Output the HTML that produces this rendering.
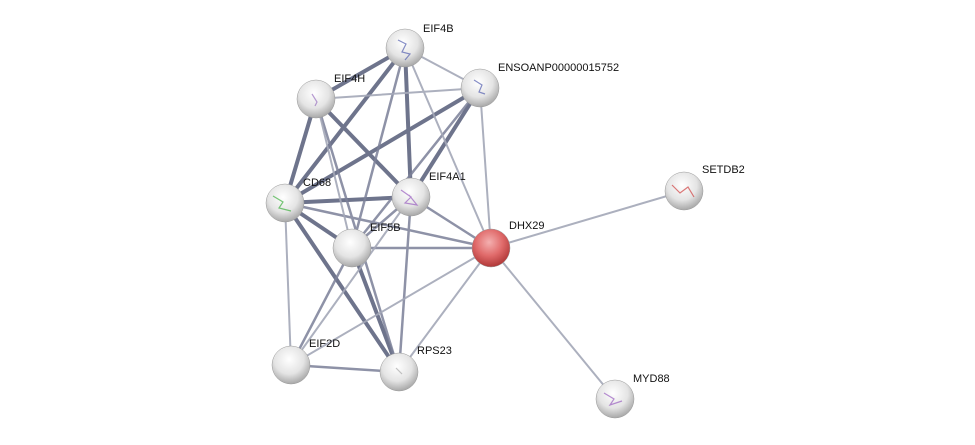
<!DOCTYPE html>
<html><head><meta charset="utf-8"><style>html,body{margin:0;padding:0;background:#fff;}svg{display:block}</style></head>
<body>
<svg width="975" height="445" viewBox="0 0 975 445" xmlns="http://www.w3.org/2000/svg">
<defs>
<radialGradient id="g" cx="45%" cy="35%" r="65%"><stop offset="0" stop-color="#ffffff"/><stop offset="0.6" stop-color="#e4e4e4"/><stop offset="1" stop-color="#a8a8a8"/></radialGradient>
<radialGradient id="r" cx="45%" cy="35%" r="65%"><stop offset="0" stop-color="#f4b0b0"/><stop offset="0.55" stop-color="#e06a6a"/><stop offset="1" stop-color="#b03838"/></radialGradient>
</defs>
<g stroke-linecap="round">
<!-- thick -->
<g stroke="#5f6680" stroke-width="4" opacity="0.9">
<line x1="405" y1="48" x2="316" y2="99"/>
<line x1="405" y1="48" x2="285" y2="203"/>
<line x1="405" y1="48" x2="411" y2="197"/>
<line x1="316" y1="99" x2="285" y2="203"/>
<line x1="316" y1="99" x2="411" y2="197"/>
<line x1="480" y1="88" x2="285" y2="203"/>
<line x1="480" y1="88" x2="411" y2="197"/>
<line x1="285" y1="203" x2="411" y2="197"/>
<line x1="285" y1="203" x2="352" y2="248"/>
<line x1="285" y1="203" x2="399" y2="372"/>
<line x1="352" y1="248" x2="399" y2="372"/>
</g>
<g stroke="#7b8098" stroke-width="2.5" opacity="0.85">
<line x1="480" y1="88" x2="352" y2="248"/>
<line x1="285" y1="203" x2="491" y2="248"/>
<line x1="411" y1="197" x2="352" y2="248"/>
<line x1="411" y1="197" x2="491" y2="248"/>
<line x1="411" y1="197" x2="399" y2="372"/>
<line x1="352" y1="248" x2="491" y2="248"/>
<line x1="352" y1="248" x2="291" y2="365"/>
<line x1="291" y1="365" x2="399" y2="372"/>
<line x1="316" y1="99" x2="399" y2="372"/>
<line x1="405" y1="48" x2="352" y2="248"/>
</g>
<g stroke="#a4a8b8" stroke-width="2" opacity="0.9">
<line x1="405" y1="48" x2="491" y2="248"/>
<line x1="405" y1="48" x2="480" y2="88"/>
<line x1="316" y1="99" x2="480" y2="88"/>
<line x1="316" y1="99" x2="352" y2="248"/>
<line x1="480" y1="88" x2="491" y2="248"/>
<line x1="285" y1="203" x2="291" y2="365"/>
<line x1="411" y1="197" x2="291" y2="365"/>
<line x1="491" y1="248" x2="684" y2="191"/>
<line x1="491" y1="248" x2="615" y2="399"/>
<line x1="491" y1="248" x2="291" y2="365"/>
<line x1="491" y1="248" x2="399" y2="372"/>
</g>
</g>
<g stroke="#999" stroke-width="0.5">
<circle cx="405" cy="48" r="19" fill="url(#g)"/>
<circle cx="480" cy="88" r="19" fill="url(#g)"/>
<circle cx="316" cy="99" r="19" fill="url(#g)"/>
<circle cx="285" cy="203" r="19" fill="url(#g)"/>
<circle cx="411" cy="197" r="19" fill="url(#g)"/>
<circle cx="352" cy="248" r="19" fill="url(#g)"/>
<circle cx="491" cy="248" r="19" fill="url(#r)"/>
<circle cx="684" cy="191" r="19" fill="url(#g)"/>
<circle cx="291" cy="365" r="19" fill="url(#g)"/>
<circle cx="399" cy="372" r="19" fill="url(#g)"/>
<circle cx="615" cy="399" r="19" fill="url(#g)"/>
</g>
<g fill="none" stroke-width="1.2" opacity="0.7">
<path d="M398 40 l8 4 l-4 8 l8 2 l-5 6" stroke="#5560b0"/>
<path d="M474 80 l8 5 l-3 7 l6 2" stroke="#5560b0"/>
<path d="M312 94 l5 8 l-2 4" stroke="#9a70c0"/>
<path d="M273 196 l10 6 l-4 6 l12 3" stroke="#40b040"/>
<path d="M401 190 l10 7 l-6 6 l12 2 l-8 -10" stroke="#9a60c0"/>
<path d="M672 185 l8 8 l8 -6 l6 10" stroke="#d04040"/>
<path d="M604 393 l10 6 l-4 6 l12 -4" stroke="#9a60c0"/>
<path d="M396 368 l6 6" stroke="#aaa"/>
</g>
<g font-family="Liberation Sans, sans-serif" font-size="11" fill="#111">
<text x="423" y="32">EIF4B</text>
<text x="498" y="71">ENSOANP00000015752</text>
<text x="334" y="82">EIF4H</text>
<text x="303" y="186">CD68</text>
<text x="429" y="180">EIF4A1</text>
<text x="370" y="231">EIF5B</text>
<text x="509" y="229">DHX29</text>
<text x="702" y="173">SETDB2</text>
<text x="309" y="347">EIF2D</text>
<text x="417" y="354">RPS23</text>
<text x="633" y="382">MYD88</text>
</g>
</svg>
</body></html>
